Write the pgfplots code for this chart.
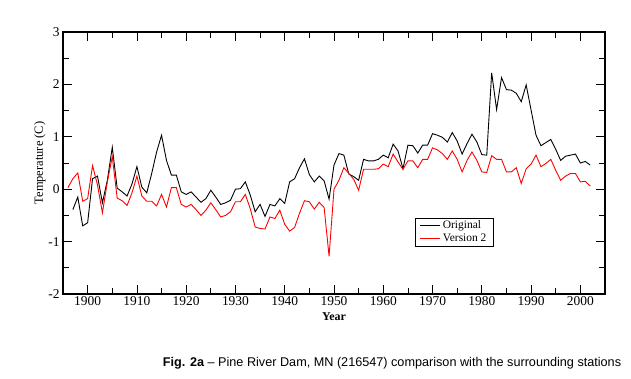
\documentclass[border=0pt]{standalone}
\usepackage{pgfplots}
\pgfplotsset{compat=1.18}
\usepackage{fontspec}
\setmainfont{Liberation Serif}
\newfontfamily\capfont{Liberation Sans}
\begin{document}
\begin{tikzpicture}
\begin{axis}[
  scale only axis,
  width=542bp, height=262bp,
  xmin=1895, xmax=2005, ymin=-2, ymax=3,
  xtick={1900,1910,...,2000},
  minor x tick num=1,
  ytick={-2,-1,0,1,2,3},
  minor y tick num=1,
  tick align=inside,
  major tick length=9bp,
  minor tick length=6bp,
  tick style={black, line width=0.8pt},
  axis line style={line width=1.3pt},
  /pgf/number format/assume math mode=true,
  /pgf/number format/1000 sep={},
  ticklabel style={font=\fontsize{13.5}{15}\selectfont},
  xticklabel style={yshift=1bp},
  xlabel={\textbf{Year}},
  xlabel style={font=\fontsize{12}{14}\selectfont, yshift=0bp},
  ylabel={Temperature (C)},
  ylabel style={font=\fontsize{12.5}{14}\selectfont, yshift=-4bp},
  legend style={at={(0.649,0.29)}, anchor=north west, draw=black, line width=0.4pt,
    font=\fontsize{11.5}{13}\selectfont, row sep=0pt, inner xsep=5bp, inner ysep=0.5bp},
  legend cell align=left,
  legend image code/.code={\draw[#1] (0bp,0bp) -- (20bp,0bp);},
]
\addplot[black, line width=0.9pt] coordinates {
(1897,-0.39)(1898,-0.15)(1899,-0.70)(1900,-0.64)(1901,0.20)(1902,0.25)(1903,-0.26)(1904,0.17)(1905,0.80)(1906,0.02)
(1907,-0.05)(1908,-0.13)(1909,0.10)(1910,0.43)(1911,0.04)(1912,-0.07)(1913,0.30)(1914,0.71)(1915,1.03)(1916,0.55)
(1917,0.27)(1918,0.27)(1919,-0.05)(1920,-0.10)(1921,-0.05)(1922,-0.15)(1923,-0.25)(1924,-0.18)(1925,-0.02)(1926,-0.15)
(1927,-0.29)(1928,-0.26)(1929,-0.21)(1930,0.00)(1931,0.01)(1932,0.14)(1933,-0.11)(1934,-0.43)(1935,-0.29)(1936,-0.52)
(1937,-0.29)(1938,-0.32)(1939,-0.18)(1940,-0.27)(1941,0.14)(1942,0.20)(1943,0.41)(1944,0.58)(1945,0.28)(1946,0.14)
(1947,0.25)(1948,0.16)(1949,-0.19)(1950,0.46)(1951,0.68)(1952,0.65)(1953,0.29)(1954,0.24)(1955,0.17)(1956,0.57)
(1957,0.54)(1958,0.54)(1959,0.57)(1960,0.65)(1961,0.60)(1962,0.86)(1963,0.73)(1964,0.39)(1965,0.84)(1966,0.83)
(1967,0.69)(1968,0.84)(1969,0.84)(1970,1.06)(1971,1.03)(1972,0.99)(1973,0.90)(1974,1.08)(1975,0.92)(1976,0.67)
(1977,0.87)(1978,1.05)(1979,0.90)(1980,0.66)(1981,0.65)(1982,2.22)(1983,1.52)(1984,2.13)(1985,1.90)(1986,1.89)
(1987,1.83)(1988,1.67)(1989,1.99)(1990,1.51)(1991,1.03)(1992,0.83)(1993,0.89)(1994,0.95)(1995,0.76)(1996,0.55)
(1997,0.63)(1998,0.65)(1999,0.67)(2000,0.50)(2001,0.53)(2002,0.46)
};
\addlegendentry{Original}
\addplot[red, line width=0.9pt] coordinates {
(1896,0.03)(1897,0.20)(1898,0.31)(1899,-0.23)(1900,-0.18)(1901,0.45)(1902,0.08)(1903,-0.45)(1904,0.14)(1905,0.62)
(1906,-0.17)(1907,-0.22)(1908,-0.31)(1909,-0.07)(1910,0.25)(1911,-0.13)(1912,-0.23)(1913,-0.23)(1914,-0.32)(1915,-0.10)
(1916,-0.34)(1917,0.03)(1918,0.03)(1919,-0.29)(1920,-0.34)(1921,-0.29)(1922,-0.39)(1923,-0.50)(1924,-0.40)(1925,-0.26)
(1926,-0.39)(1927,-0.53)(1928,-0.50)(1929,-0.43)(1930,-0.24)(1931,-0.24)(1932,-0.10)(1933,-0.37)(1934,-0.72)(1935,-0.75)
(1936,-0.76)(1937,-0.53)(1938,-0.56)(1939,-0.40)(1940,-0.67)(1941,-0.80)(1942,-0.73)(1943,-0.46)(1944,-0.22)(1945,-0.24)
(1946,-0.38)(1947,-0.25)(1948,-0.35)(1949,-1.28)(1950,0.00)(1951,0.17)(1952,0.41)(1953,0.30)(1954,0.19)(1955,-0.02)
(1956,0.38)(1957,0.38)(1958,0.38)(1959,0.39)(1960,0.48)(1961,0.43)(1962,0.67)(1963,0.52)(1964,0.38)(1965,0.54)
(1966,0.54)(1967,0.41)(1968,0.57)(1969,0.57)(1970,0.79)(1971,0.75)(1972,0.68)(1973,0.57)(1974,0.73)(1975,0.57)
(1976,0.33)(1977,0.55)(1978,0.71)(1979,0.55)(1980,0.33)(1981,0.32)(1982,0.64)(1983,0.57)(1984,0.57)(1985,0.33)
(1986,0.33)(1987,0.41)(1988,0.11)(1989,0.39)(1990,0.48)(1991,0.65)(1992,0.43)(1993,0.49)(1994,0.57)(1995,0.36)
(1996,0.17)(1997,0.25)(1998,0.30)(1999,0.30)(2000,0.14)(2001,0.15)(2002,0.06)
};
\addlegendentry{Version 2}
\end{axis}
\path (current axis.south west) ++(-63bp,-85bp) rectangle ++(631bp,379bp);
\node[anchor=center, font=\capfont\fontsize{12.7}{14}\selectfont] at ([xshift=329bp,yshift=-69bp]current axis.south west)
  {\textbf{Fig. 2a} – Pine River Dam, MN (216547) comparison with the surrounding stations};
\end{tikzpicture}
\end{document}
